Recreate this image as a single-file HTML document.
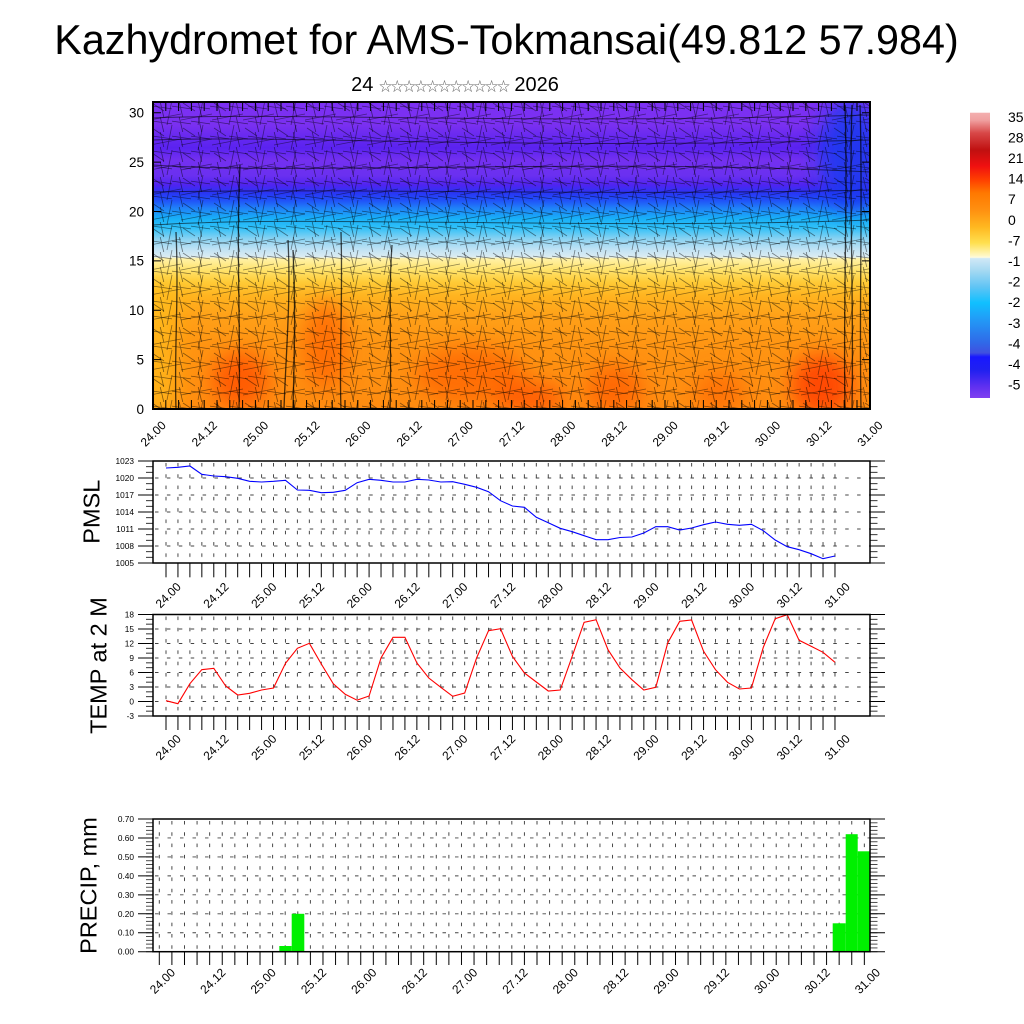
<!DOCTYPE html>
<html><head><meta charset="utf-8">
<style>html,body{margin:0;padding:0;background:#fff;}svg{display:block}</style>
</head>
<body>
<svg width="1024" height="1024" viewBox="0 0 1024 1024" xmlns="http://www.w3.org/2000/svg" font-family="'Liberation Sans', Arial, sans-serif">
<defs>
<linearGradient id="mg" x1="0" y1="102" x2="0" y2="409" gradientUnits="userSpaceOnUse">
<stop offset="0" stop-color="#7c30f4"/>
<stop offset="0.075" stop-color="#7a30f0"/>
<stop offset="0.12" stop-color="#6428f0"/>
<stop offset="0.15" stop-color="#5a22f0"/>
<stop offset="0.19" stop-color="#7430f0"/>
<stop offset="0.24" stop-color="#6a30f0"/>
<stop offset="0.27" stop-color="#5024f0"/>
<stop offset="0.295" stop-color="#2a34f4"/>
<stop offset="0.32" stop-color="#2050f8"/>
<stop offset="0.345" stop-color="#2080f8"/>
<stop offset="0.38" stop-color="#18b0f8"/>
<stop offset="0.41" stop-color="#30c0f8"/>
<stop offset="0.445" stop-color="#88d2f2"/>
<stop offset="0.48" stop-color="#c0e2f4"/>
<stop offset="0.505" stop-color="#dcecf2"/>
<stop offset="0.51" stop-color="#fff2a8"/>
<stop offset="0.545" stop-color="#ffe470"/>
<stop offset="0.585" stop-color="#ffcc38"/>
<stop offset="0.63" stop-color="#ffb420"/>
<stop offset="0.70" stop-color="#ffa018"/>
<stop offset="0.80" stop-color="#ff9412"/>
<stop offset="1" stop-color="#ff8c10"/>
</linearGradient>
<linearGradient id="cb" x1="0" y1="112.7" x2="0" y2="398" gradientUnits="userSpaceOnUse">
<stop offset="0" stop-color="#f4b0b0"/>
<stop offset="0.026" stop-color="#f0a0a0"/>
<stop offset="0.071" stop-color="#d84848"/>
<stop offset="0.131" stop-color="#c01010"/>
<stop offset="0.187" stop-color="#f01010"/>
<stop offset="0.236" stop-color="#ff4000"/>
<stop offset="0.281" stop-color="#ff7800"/>
<stop offset="0.341" stop-color="#ff9010"/>
<stop offset="0.401" stop-color="#ffb820"/>
<stop offset="0.457" stop-color="#ffe050"/>
<stop offset="0.502" stop-color="#fff8c8"/>
<stop offset="0.507" stop-color="#fffce0"/>
<stop offset="0.511" stop-color="#d0e8f6"/>
<stop offset="0.551" stop-color="#a8daf2"/>
<stop offset="0.611" stop-color="#60c4f4"/>
<stop offset="0.667" stop-color="#10c0ff"/>
<stop offset="0.716" stop-color="#20a0f8"/>
<stop offset="0.807" stop-color="#3068e8"/>
<stop offset="0.842" stop-color="#4050e0"/>
<stop offset="0.856" stop-color="#1818ff"/>
<stop offset="0.902" stop-color="#2020f0"/>
<stop offset="0.961" stop-color="#6030f0"/>
<stop offset="1" stop-color="#8040f0"/>
</linearGradient>
<filter id="bl" x="-50%" y="-50%" width="200%" height="200%"><feGaussianBlur stdDeviation="10"/></filter>
<clipPath id="mc"><rect x="153" y="102" width="717" height="307"/></clipPath>
<pattern id="wa" x="153" y="102" width="19" height="15" patternUnits="userSpaceOnUse"><path d="M-1,4 L20,7 M7,-1 L11,16" stroke="#000" stroke-opacity="0.5" stroke-width="0.8" fill="none"/></pattern>
<pattern id="wb" x="150" y="100" width="31" height="25" patternUnits="userSpaceOnUse"><path d="M0,20 L31,14 M22,0 L17,25 M2,3 L14,11" stroke="#000" stroke-opacity="0.45" stroke-width="0.8" fill="none"/></pattern>
<pattern id="gv1" x="160.027" y="461" width="11.946" height="11.3" patternUnits="userSpaceOnUse"><path d="M5.973,2 V5.5" stroke="#333" stroke-width="0.9"/></pattern>
<pattern id="gv2" x="160.027" y="614.5" width="11.946" height="11.3" patternUnits="userSpaceOnUse"><path d="M5.973,2 V5.5" stroke="#333" stroke-width="0.9"/></pattern>
<pattern id="gv3" x="153.005" y="819" width="12.59" height="11.3" patternUnits="userSpaceOnUse"><path d="M6.295,2 V5.5" stroke="#333" stroke-width="0.9"/></pattern>
<pattern id="tx1" x="160.027" y="0" width="11.946" height="20" patternUnits="userSpaceOnUse"><path d="M5.973,0 V20" stroke="#000" stroke-width="1"/></pattern>
<pattern id="tx3" x="153.005" y="0" width="12.59" height="20" patternUnits="userSpaceOnUse"><path d="M6.295,0 V20" stroke="#000" stroke-width="1"/></pattern>
<pattern id="tx0" x="146.6" y="0" width="12.8" height="20" patternUnits="userSpaceOnUse"><path d="M6.4,0 V20" stroke="#000" stroke-width="1"/></pattern>
<pattern id="mp" x="0" y="458.167" width="10" height="5.6667" patternUnits="userSpaceOnUse"><path d="M0,2.8333 H10" stroke="#000" stroke-width="0.8"/></pattern>
<pattern id="mt" x="0" y="612.083" width="10" height="4.8333" patternUnits="userSpaceOnUse"><path d="M0,2.4167 H10" stroke="#000" stroke-width="0.8"/></pattern>
<pattern id="mr" x="0" y="817.104" width="10" height="3.7917" patternUnits="userSpaceOnUse"><path d="M0,1.896 H10" stroke="#000" stroke-width="0.7"/></pattern>
</defs>

<!-- Titles -->
<text x="506.5" y="54" text-anchor="middle" font-size="41.3">Kazhydromet for AMS-Tokmansai(49.812 57.984)</text>
<text x="455" y="91" text-anchor="middle" font-size="20">24 <tspan font-family="'Noto Sans CJK JP', 'DejaVu Sans', sans-serif" font-size="13" fill="#666" letter-spacing="-1.2">☆☆☆☆☆☆☆☆☆☆☆</tspan> 2026</text>

<!-- Main contour panel -->
<g clip-path="url(#mc)">
<rect x="153" y="102" width="717" height="307" fill="url(#mg)"/>
<g filter="url(#bl)">
<ellipse cx="850" cy="155" rx="32" ry="55" fill="#1838f0" opacity="0.85"/>
<rect x="140" y="285" width="36" height="130" fill="#ffc020" opacity="0.7"/>
<ellipse cx="240" cy="380" rx="28" ry="28" fill="#ff5000" opacity="0.8"/>
<ellipse cx="325" cy="345" rx="22" ry="45" fill="#ff6000" opacity="0.7"/>
<ellipse cx="470" cy="375" rx="55" ry="28" fill="#ff6000" opacity="0.7"/>
<ellipse cx="530" cy="398" rx="35" ry="15" fill="#ff4800" opacity="0.7"/>
<ellipse cx="615" cy="390" rx="28" ry="25" fill="#ff5800" opacity="0.7"/>
<ellipse cx="720" cy="392" rx="25" ry="20" fill="#ff6000" opacity="0.6"/>
<ellipse cx="822" cy="385" rx="30" ry="30" fill="#ff3800" opacity="0.8"/>
</g>
<rect x="153" y="102" width="717" height="307" fill="url(#wa)"/>
<rect x="153" y="102" width="717" height="307" fill="url(#wb)"/>
<g stroke="#000" stroke-opacity="0.55" fill="none" stroke-width="1">
<path d="M153,118 C300,112 500,125 870,115"/>
<path d="M153,140 C300,135 500,150 870,140"/>
<path d="M153,165 C300,175 600,158 870,172"/>
<path d="M153,192 C350,188 600,196 870,190"/>
<path d="M153,225 C300,215 600,230 870,220"/>
</g>
<g stroke="#000" stroke-opacity="0.7" fill="none" stroke-width="1.3">
<path d="M176,409 C174,350 179,300 176,232"/>
<path d="M239,409 C241,330 236,250 240,165"/>
<path d="M284,409 C286,350 291,300 288,240"/>
<path d="M293,409 C294,360 296,320 293,250"/>
<path d="M341,409 C339,360 343,300 341,232"/>
<path d="M390,409 C392,360 388,300 392,245"/>
<path d="M845,409 C843,300 848,200 845,105"/>
<path d="M852,409 C854,300 849,200 852,105"/>
<path d="M861,409 C859,300 863,200 860,105"/>
</g>
</g>
<rect x="159.8" y="102" width="704" height="9" fill="url(#tx0)"/>
<rect x="159.8" y="400" width="704" height="9" fill="url(#tx0)"/>
<g stroke="#000" stroke-width="1">
<path d="M153,359.6 H161 M153,310.3 H161 M153,260.9 H161 M153,211.5 H161 M153,162.1 H161 M153,112.7 H161"/>
<path d="M862,359.6 H870 M862,310.3 H870 M862,260.9 H870 M862,211.5 H870 M862,162.1 H870 M862,112.7 H870"/>
</g>
<rect x="153" y="102" width="717" height="307" fill="none" stroke="#000" stroke-width="2"/>
<g font-size="13.5" text-anchor="end">
<text x="144" y="117.5">30</text>
<text x="144" y="166.9">25</text>
<text x="144" y="216.3">20</text>
<text x="144" y="265.7">15</text>
<text x="144" y="315.1">10</text>
<text x="144" y="364.4">5</text>
<text x="144" y="413.8">0</text>
</g>
<g font-size="12" text-anchor="end">
<text transform="translate(166.7,426) rotate(-45)">24.00</text>
<text transform="translate(217.9,426) rotate(-45)">24.12</text>
<text transform="translate(269.1,426) rotate(-45)">25.00</text>
<text transform="translate(320.3,426) rotate(-45)">25.12</text>
<text transform="translate(371.5,426) rotate(-45)">26.00</text>
<text transform="translate(422.7,426) rotate(-45)">26.12</text>
<text transform="translate(473.9,426) rotate(-45)">27.00</text>
<text transform="translate(525.1,426) rotate(-45)">27.12</text>
<text transform="translate(576.3,426) rotate(-45)">28.00</text>
<text transform="translate(627.5,426) rotate(-45)">28.12</text>
<text transform="translate(678.7,426) rotate(-45)">29.00</text>
<text transform="translate(729.9,426) rotate(-45)">29.12</text>
<text transform="translate(781.1,426) rotate(-45)">30.00</text>
<text transform="translate(832.3,426) rotate(-45)">30.12</text>
<text transform="translate(883.5,426) rotate(-45)">31.00</text>
</g>

<!-- Colorbar -->
<rect x="970" y="112.7" width="20" height="285.3" fill="url(#cb)"/>
<g font-size="14">
<text x="1008" y="121.8">35</text>
<text x="1008" y="142.4">28</text>
<text x="1008" y="163">21</text>
<text x="1008" y="183.6">14</text>
<text x="1008" y="204.2">7</text>
<text x="1008" y="224.8">0</text>
<text x="1008" y="245.4">-7</text>
<text x="1008" y="266">-1</text>
<text x="1008" y="286.6">-2</text>
<text x="1008" y="307.2">-2</text>
<text x="1008" y="327.8">-3</text>
<text x="1008" y="348.4">-4</text>
<text x="1008" y="369">-4</text>
<text x="1008" y="389.6">-5</text>
</g>

<!-- PMSL panel -->
<rect x="160.027" y="461" width="680.946" height="102" fill="url(#gv1)"/>
<g stroke="#444" stroke-width="0.9" stroke-dasharray="3.5 8.4" fill="none">
<path d="M155,478 H870 M155,495 H870 M155,512 H870 M155,529 H870 M155,546 H870"/>
</g>
<polyline fill="none" stroke="#0000ff" stroke-width="1.1" points="166.0,468 177.9,467.3 189.9,466 201.8,474.3 213.8,476 225.7,476.7 237.7,478.3 249.6,481.3 261.6,482 273.5,481.3 285.5,480.3 297.4,490 309.4,490.3 321.3,492.7 333.2,492.3 345.2,490.3 357.1,482.7 369.1,479.3 381.0,480.3 393.0,482 404.9,482 416.9,479.3 428.8,480 440.8,482 452.7,481.7 464.7,484.3 476.6,487.3 488.5,491.7 500.5,500.7 512.4,506 524.4,507.3 536.3,517.3 548.3,522.7 560.2,528.3 572.2,531.7 584.1,535.7 596.1,539.7 608.0,539.7 620.0,537.5 631.9,537 643.8,533 655.8,526.7 667.7,526.7 679.7,530 691.6,528 703.6,524.7 715.5,522 727.5,524.3 739.4,525.3 751.4,524.3 763.3,530.7 775.2,540 787.2,546.7 799.1,549.7 811.1,553.7 823.0,558.7 835.0,556"/>
<rect x="160.027" y="563" width="680.946" height="14.3" fill="url(#tx1)"/>
<rect x="146" y="458.167" width="7" height="107.67" fill="url(#mp)"/>
<rect x="870" y="458.167" width="7.5" height="107.67" fill="url(#mp)"/>
<g stroke="#000" stroke-width="1">
<path d="M138,461 H153 M138,478 H153 M138,495 H153 M138,512 H153 M138,529 H153 M138,546 H153 M138,563 H153"/>
<path d="M870,461 H885 M870,478 H885 M870,495 H885 M870,512 H885 M870,529 H885 M870,546 H885 M870,563 H885"/>
</g>
<rect x="153" y="461" width="717" height="102" fill="none" stroke="#000" stroke-width="1.5"/>
<g font-size="8.3" text-anchor="end">
<text x="134" y="464">1023</text>
<text x="134" y="481">1020</text>
<text x="134" y="498">1017</text>
<text x="134" y="515">1014</text>
<text x="134" y="532">1011</text>
<text x="134" y="549">1008</text>
<text x="134" y="566">1005</text>
</g>
<text transform="translate(99.3,511.7) rotate(-90)" text-anchor="middle" font-size="23.5">PMSL</text>
<g font-size="12" text-anchor="end">
<text transform="translate(181.7,587.5) rotate(-45)">24.00</text>
<text transform="translate(229.5,587.5) rotate(-45)">24.12</text>
<text transform="translate(277.3,587.5) rotate(-45)">25.00</text>
<text transform="translate(325.1,587.5) rotate(-45)">25.12</text>
<text transform="translate(372.8,587.5) rotate(-45)">26.00</text>
<text transform="translate(420.6,587.5) rotate(-45)">26.12</text>
<text transform="translate(468.4,587.5) rotate(-45)">27.00</text>
<text transform="translate(516.2,587.5) rotate(-45)">27.12</text>
<text transform="translate(564,587.5) rotate(-45)">28.00</text>
<text transform="translate(611.8,587.5) rotate(-45)">28.12</text>
<text transform="translate(659.5,587.5) rotate(-45)">29.00</text>
<text transform="translate(707.3,587.5) rotate(-45)">29.12</text>
<text transform="translate(755.1,587.5) rotate(-45)">30.00</text>
<text transform="translate(802.9,587.5) rotate(-45)">30.12</text>
<text transform="translate(850.7,587.5) rotate(-45)">31.00</text>
</g>

<!-- TEMP panel -->
<rect x="160.027" y="614.5" width="680.946" height="101.5" fill="url(#gv2)"/>
<g stroke="#444" stroke-width="0.9" stroke-dasharray="3.5 8.4" fill="none">
<path d="M155,629 H870 M155,643.5 H870 M155,658 H870 M155,672.5 H870 M155,687 H870 M155,701.5 H870"/>
</g>
<polyline fill="none" stroke="#ff0000" stroke-width="1.1" points="166.0,700.7 177.9,703.7 189.9,683.7 201.8,669.7 213.8,668.3 225.7,686 237.7,695 249.6,693.3 261.6,690 273.5,688 285.5,663.3 297.4,648.3 309.4,643.3 321.3,664 333.2,683.7 345.2,694.3 357.1,700.2 369.1,696 381.0,658 393.0,637.3 404.9,637.3 416.9,663 428.8,678 440.8,687.3 452.7,696.3 464.7,693 476.6,658 488.5,630.7 500.5,628.7 512.4,656.3 524.4,673 536.3,682 548.3,691 560.2,690 572.2,656.3 584.1,622.3 596.1,619.7 608.0,649.7 620.0,668 631.9,679.7 643.8,690 655.8,687.3 667.7,643 679.7,621.3 691.6,620 703.6,651.3 715.5,669.7 727.5,682.3 739.4,689 751.4,688 763.3,647.3 775.2,618.7 787.2,614.7 799.1,640.3 811.1,646.3 823.0,652.3 835.0,662.3"/>
<rect x="160.027" y="716" width="680.946" height="14" fill="url(#tx1)"/>
<rect x="146" y="612.083" width="7" height="106.33" fill="url(#mt)"/>
<rect x="870" y="612.083" width="7.5" height="106.33" fill="url(#mt)"/>
<g stroke="#000" stroke-width="1">
<path d="M138,614.5 H153 M138,629 H153 M138,643.5 H153 M138,658 H153 M138,672.5 H153 M138,687 H153 M138,701.5 H153 M138,716 H153"/>
<path d="M870,614.5 H885 M870,629 H885 M870,643.5 H885 M870,658 H885 M870,672.5 H885 M870,687 H885 M870,701.5 H885 M870,716 H885"/>
</g>
<rect x="153" y="614.5" width="717" height="101.5" fill="none" stroke="#000" stroke-width="1.5"/>
<g font-size="8.3" text-anchor="end">
<text x="134" y="617.5">18</text>
<text x="134" y="632">15</text>
<text x="134" y="646.5">12</text>
<text x="134" y="661">9</text>
<text x="134" y="675.5">6</text>
<text x="134" y="690">3</text>
<text x="134" y="704.5">0</text>
<text x="134" y="719">-3</text>
</g>
<text transform="translate(106.7,665.5) rotate(-90)" text-anchor="middle" font-size="23.5">TEMP at 2 M</text>
<g font-size="12" text-anchor="end">
<text transform="translate(181.7,739.5) rotate(-45)">24.00</text>
<text transform="translate(229.5,739.5) rotate(-45)">24.12</text>
<text transform="translate(277.3,739.5) rotate(-45)">25.00</text>
<text transform="translate(325.1,739.5) rotate(-45)">25.12</text>
<text transform="translate(372.8,739.5) rotate(-45)">26.00</text>
<text transform="translate(420.6,739.5) rotate(-45)">26.12</text>
<text transform="translate(468.4,739.5) rotate(-45)">27.00</text>
<text transform="translate(516.2,739.5) rotate(-45)">27.12</text>
<text transform="translate(564,739.5) rotate(-45)">28.00</text>
<text transform="translate(611.8,739.5) rotate(-45)">28.12</text>
<text transform="translate(659.5,739.5) rotate(-45)">29.00</text>
<text transform="translate(707.3,739.5) rotate(-45)">29.12</text>
<text transform="translate(755.1,739.5) rotate(-45)">30.00</text>
<text transform="translate(802.9,739.5) rotate(-45)">30.12</text>
<text transform="translate(850.7,739.5) rotate(-45)">31.00</text>
</g>

<!-- PRECIP panel -->
<rect x="153.005" y="819" width="716.99" height="132.7" fill="url(#gv3)"/>
<g stroke="#444" stroke-width="0.9" stroke-dasharray="3.5 9" fill="none">
<path d="M155,932.74 H870 M155,913.79 H870 M155,894.83 H870 M155,875.87 H870 M155,856.92 H870 M155,837.96 H870"/>
</g>
<g fill="#00f000">
<rect x="279.3" y="946" width="12.4" height="5.7"/>
<rect x="291.7" y="913.8" width="12.6" height="37.9"/>
<rect x="832.7" y="923.3" width="13" height="28.4"/>
<rect x="845.7" y="834.2" width="12" height="117.5"/>
<rect x="857.7" y="851.3" width="12.3" height="100.4"/>
</g>
<rect x="153.005" y="951.7" width="716.99" height="13.3" fill="url(#tx3)"/>
<rect x="146" y="817.104" width="7" height="136.5" fill="url(#mr)"/>
<rect x="870" y="817.104" width="7.5" height="136.5" fill="url(#mr)"/>
<g stroke="#000" stroke-width="1">
<path d="M138,819 H153 M138,837.96 H153 M138,856.92 H153 M138,875.87 H153 M138,894.83 H153 M138,913.79 H153 M138,932.74 H153 M138,951.7 H153"/>
<path d="M870,819 H885 M870,837.96 H885 M870,856.92 H885 M870,875.87 H885 M870,894.83 H885 M870,913.79 H885 M870,932.74 H885 M870,951.7 H885"/>
</g>
<rect x="153" y="819" width="717" height="132.7" fill="none" stroke="#000" stroke-width="1.5"/>
<g font-size="8.3" text-anchor="end">
<text x="134" y="822">0.70</text>
<text x="134" y="841">0.60</text>
<text x="134" y="859.9">0.50</text>
<text x="134" y="878.9">0.40</text>
<text x="134" y="897.8">0.30</text>
<text x="134" y="916.8">0.20</text>
<text x="134" y="935.7">0.10</text>
<text x="134" y="954.7">0.00</text>
</g>
<text transform="translate(96.3,885.5) rotate(-90)" text-anchor="middle" font-size="23.5">PRECIP, mm</text>
<g font-size="12" text-anchor="end">
<text transform="translate(176,973.3) rotate(-45)">24.00</text>
<text transform="translate(226.4,973.3) rotate(-45)">24.12</text>
<text transform="translate(276.7,973.3) rotate(-45)">25.00</text>
<text transform="translate(327.1,973.3) rotate(-45)">25.12</text>
<text transform="translate(377.4,973.3) rotate(-45)">26.00</text>
<text transform="translate(427.8,973.3) rotate(-45)">26.12</text>
<text transform="translate(478.2,973.3) rotate(-45)">27.00</text>
<text transform="translate(528.5,973.3) rotate(-45)">27.12</text>
<text transform="translate(578.9,973.3) rotate(-45)">28.00</text>
<text transform="translate(629.2,973.3) rotate(-45)">28.12</text>
<text transform="translate(679.6,973.3) rotate(-45)">29.00</text>
<text transform="translate(730,973.3) rotate(-45)">29.12</text>
<text transform="translate(780.3,973.3) rotate(-45)">30.00</text>
<text transform="translate(830.7,973.3) rotate(-45)">30.12</text>
<text transform="translate(881,973.3) rotate(-45)">31.00</text>
</g>
</svg>
</body></html>
